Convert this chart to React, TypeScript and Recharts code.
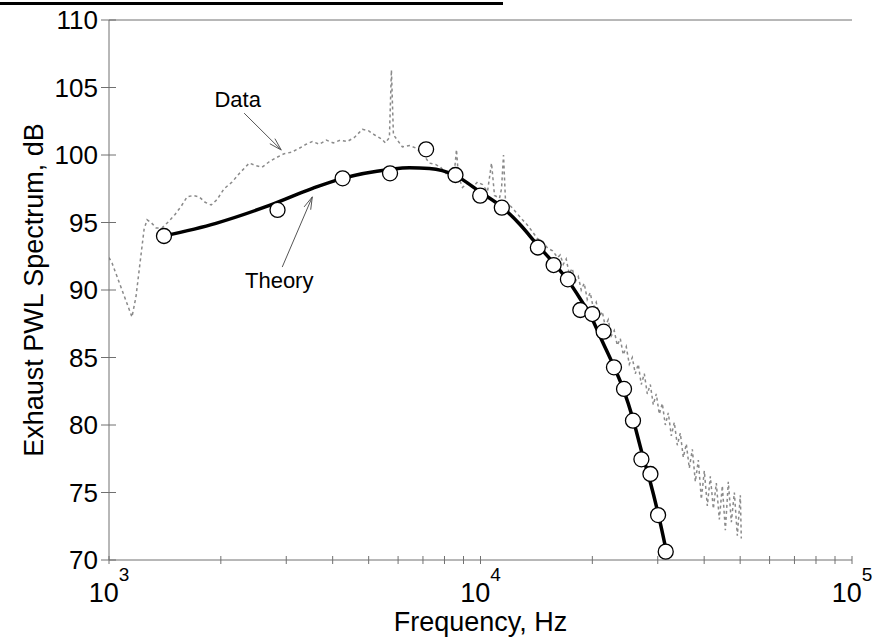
import React from 'react';
import { ComposedChart, Line, Scatter, XAxis, YAxis, ReferenceLine, ReferenceDot } from 'recharts';

const FONT = '"Liberation Sans", Arial, Helvetica, sans-serif';
const AXIS = '#707070';

// measured spectrum (dotted grey)
const dataHz = [
  1000, 1019, 1051, 1084, 1118, 1153, 1182, 1212, 1243, 1266, 1298, 1339, 1389, 1451, 1506, 1564,
  1623, 1684, 1748, 1814, 1884, 1954, 2041, 2145, 2255, 2385, 2491, 2584, 2699, 2819, 2963, 3095,
  3252, 3396, 3526, 3681, 3845, 4016, 4195, 4381, 4576, 4808, 4991, 5179, 5409, 5545, 5686, 5757,
  5829, 5975, 6163, 6437, 6722, 7021, 7287, 7564, 7802, 8098, 8302, 8510, 8616, 8724, 8943, 9225,
  9516, 9815, 10125, 10444, 10707, 10908, 11250, 11391, 11533, 11675, 11970, 12425, 12977, 13386,
  13808, 14244, 14693, 15157, 15636, 16129, 16390, 16700, 17010, 17330, 17660, 17990, 18330, 18670,
  19020, 19380, 19740, 20110, 20490, 20880, 21270, 21670, 22070, 22490, 22910, 23340, 23780, 24230,
  24680, 25150, 25620, 26100, 26590, 27090, 27600, 28120, 28650, 29180, 29730, 30290, 30860, 31440,
  32030, 32630, 33240, 33870, 34500, 35150, 35810, 36480, 37170, 37870, 38580, 39300, 40040, 40790,
  41560, 42340, 43130, 43940, 44770, 45610, 46460, 47340, 48230, 49130, 50050, 50350,
];
const dataDb = [
  92.4, 92.0, 91.0, 90.0, 89.0, 88.0, 89.5, 92.0, 94.5, 95.2, 95.0, 94.6, 94.6, 95.1, 95.6, 96.2,
  96.9, 97.0, 96.9, 96.5, 96.3, 96.7, 97.5, 98.0, 98.7, 99.4, 99.2, 99.1, 99.5, 99.8, 100.1, 100.2,
  100.5, 100.8, 101.0, 100.8, 101.1, 100.9, 101.1, 101.0, 101.3, 101.9, 101.8, 101.5, 101.2, 100.9, 101.3, 106.3,
  101.5, 101.1, 100.6, 100.7, 100.5, 100.0, 99.4, 99.3, 99.1, 98.6, 98.2, 98.8, 100.4, 98.4, 97.6, 97.9,
  97.6, 98.0, 97.8, 97.3, 99.4, 97.0, 96.8, 97.5, 100.0, 96.6, 96.3, 95.8, 95.2, 94.8,
  94.3, 93.8, 93.6, 93.1, 92.9, 92.4, 92.6, 91.9, 92.3, 91.2, 91.6, 90.6, 91.0, 90.0,
  90.5, 89.3, 89.8, 88.7, 89.1, 88.0, 88.4, 87.3, 87.8, 86.6, 87.0, 85.9, 86.4, 85.2,
  85.8, 84.5, 85.0, 83.8, 84.5, 83.0, 83.8, 82.3, 83.0, 81.5, 82.3, 80.8, 81.6, 80.0,
  80.9, 79.2, 80.2, 78.5, 79.4, 77.6, 78.6, 76.8, 78.2, 75.8, 77.4, 74.5, 76.6, 74.0,
  76.2, 73.8, 75.7, 73.0, 75.5, 72.2, 75.8, 72.8, 75.0, 71.8, 74.8, 71.6,
];

// theory curve (solid black)
const theoryHz = [
  1406, 1940, 2645, 3532, 4255, 5686, 6437, 7287, 8510, 9981, 11393, 12738, 14244, 15734,
  17161, 18493, 19918, 21193, 22831, 24290, 25687, 27163, 28545, 30000, 31917,
];
const theoryDb = [
  94.0, 94.94, 96.17, 97.53, 98.27, 98.93, 99.06, 99.0, 98.52, 97.26, 96.17, 94.89, 93.33, 92.0,
  90.74, 89.41, 87.93, 86.3, 84.37, 82.59, 80.52, 78.0, 75.93, 73.56, 70.15,
];

// theory points (open circles)
const pointHz = [
  1406, 2842, 4255, 5708, 7138, 8563, 9981, 11413, 14268, 15732, 17190, 18565, 20000, 21450,
  22870, 24340, 25730, 27110, 28670, 30060, 31520,
];
const pointDb = [
  94.0, 95.93, 98.27, 98.64, 100.42, 98.52, 96.99, 96.1, 93.15, 91.85, 90.79, 88.52, 88.22, 86.91,
  84.27, 82.67, 80.32, 77.46, 76.37, 73.33, 70.62,
];

const xTicks = [
  1000, 2000, 3000, 4000, 5000, 6000, 7000, 8000, 9000,
  10000, 20000, 30000, 40000, 50000, 60000, 70000, 80000, 90000, 100000,
];
const yTicks = [70, 75, 80, 85, 90, 95, 100, 105, 110];

const measured = dataHz.map((hz, i) => ({ hz, db: dataDb[i] }));
const theory = theoryHz.map((hz, i) => ({ hz, db: theoryDb[i] }));
const points = pointHz.map((hz, i) => ({ hz, db: pointDb[i] }));

const XTick = (props: any) => {
  const { x, y, payload } = props;
  const exp = Math.log10(payload.value);
  const major = Math.abs(exp - Math.round(exp)) < 1e-6;
  return (
    <g>
      <line x1={x} x2={x} y1={y - 4} y2={y + 4} stroke={AXIS} strokeWidth={1} />
      {major && (
        <text x={x} y={y + 42} textAnchor="middle" fontFamily={FONT} fontSize={27} fill="#000">
          10
          <tspan fontSize={19} dy={-21}>{Math.round(exp)}</tspan>
        </text>
      )}
    </g>
  );
};

const YTick = (props: any) => {
  const { x, y, payload } = props;
  return (
    <g>
      <line x1={x - 8} x2={x + 7} y1={y} y2={y} stroke={AXIS} strokeWidth={1} />
      <text x={x - 11} y={y} dy="0.36em" textAnchor="end" fontFamily={FONT} fontSize={26} fill="#000">
        {payload.value}
      </text>
    </g>
  );
};

const Arrow = (props: any) => {
  const { x1, y1, x2, y2 } = props;
  const a = Math.atan2(y2 - y1, x2 - x1);
  const len = 13;
  const spread = 0.28;
  const p1 = `${x2 - len * Math.cos(a - spread)},${y2 - len * Math.sin(a - spread)}`;
  const p2 = `${x2 - len * Math.cos(a + spread)},${y2 - len * Math.sin(a + spread)}`;
  return (
    <g>
      <line x1={x1} y1={y1} x2={x2} y2={y2} stroke="#555" strokeWidth={1} />
      <polyline points={`${p1} ${x2},${y2} ${p2}`} fill="none" stroke="#555" strokeWidth={1} />
    </g>
  );
};

const label = (text: string) => (p: any) => (
  <text x={p.cx} y={p.cy} textAnchor="middle" fontFamily={FONT} fontSize={22} fill="#000">
    {text}
  </text>
);

const OpenCircle = (p: any) => (
  <circle cx={p.cx} cy={p.cy} r={7.5} fill="#fff" stroke="#000" strokeWidth={1.3} />
);

export default function App() {
  return (
    <div style={{ position: 'absolute', left: 0, top: 0, width: 886, height: 638, background: '#fff' }}>
      <div style={{ position: 'absolute', left: 0, top: 2, width: 503, height: 3, background: '#000' }} />
      <ComposedChart width={886} height={638} margin={{ top: 20, right: 34, bottom: 0, left: 0 }}>
        <XAxis
          dataKey="hz"
          type="number"
          scale="log"
          domain={[1000, 100000]}
          ticks={xTicks}
          interval={0}
          allowDataOverflow
          tickLine={false}
          tickSize={0}
          tickMargin={0}
          height={78}
          axisLine={{ stroke: AXIS }}
          tick={<XTick />}
          label={{
            content: (p: any) => {
              const vb = p.viewBox;
              return (
                <text x={vb.x + vb.width / 2} y={vb.y + 71} textAnchor="middle" fontFamily={FONT} fontSize={27} fill="#000">
                  Frequency, Hz
                </text>
              );
            },
          }}
        />
        <YAxis
          dataKey="db"
          type="number"
          domain={[70, 110]}
          ticks={yTicks}
          interval={0}
          allowDataOverflow
          tickLine={false}
          tickSize={0}
          tickMargin={0}
          width={109}
          axisLine={{ stroke: AXIS }}
          tick={<YTick />}
          label={{
            content: (p: any) => {
              const vb = p.viewBox;
              const cy = vb.y + vb.height / 2;
              return (
                <text x={43} y={cy} transform={`rotate(-90 43 ${cy})`} textAnchor="middle" fontFamily={FONT} fontSize={27} fill="#000">
                  Exhaust PWL Spectrum, dB
                </text>
              );
            },
          }}
        />
        <ReferenceLine y={110} stroke={AXIS} />
        <Line
          data={measured}
          dataKey="db"
          type="linear"
          stroke="#8a8a8a"
          strokeWidth={1.5}
          strokeDasharray="3 3"
          dot={false}
          isAnimationActive={false}
        />
        <Line
          data={theory}
          dataKey="db"
          type="monotone"
          stroke="#000"
          strokeWidth={3.5}
          dot={false}
          isAnimationActive={false}
        />
        <Scatter data={points} dataKey="db" shape={OpenCircle} isAnimationActive={false} />
        <ReferenceLine segment={[{ x: 2311, y: 103.1 }, { x: 2908, y: 100.37 }]} shape={Arrow} />
        <ReferenceLine segment={[{ x: 2926, y: 91.7 }, { x: 3526, y: 96.9 }]} shape={Arrow} />
        <ReferenceDot x={2220} y={103.56} r={0} shape={label('Data')} />
        <ReferenceDot x={2872} y={90.15} r={0} shape={label('Theory')} />
      </ComposedChart>
    </div>
  );
}
